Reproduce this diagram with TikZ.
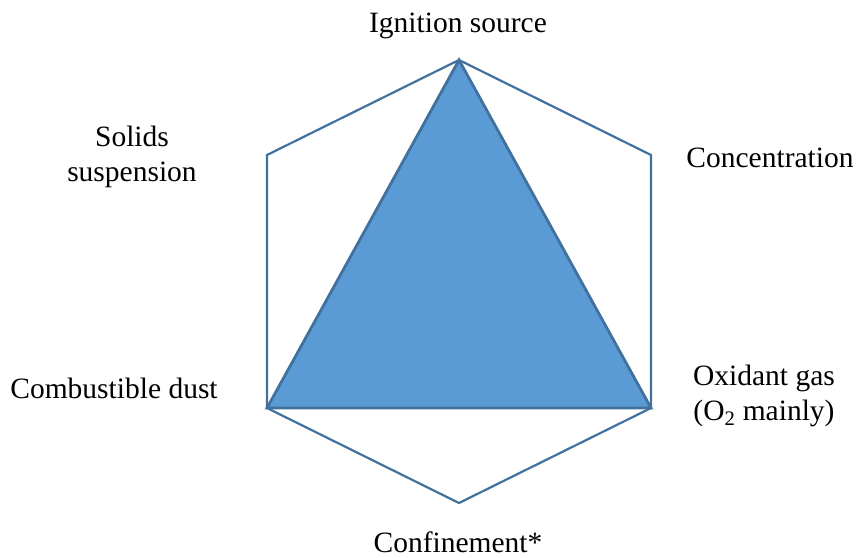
\documentclass[tikz,border=0pt]{standalone}
\usepackage{fontspec}
\setmainfont{Liberation Serif}
\usetikzlibrary{calc}
\definecolor{fillblue}{HTML}{5B9BD5}
\definecolor{edgeblue}{HTML}{41719C}

\begin{document}
\begin{tikzpicture}[x=1pt,y=-1pt,
    tag/.style={anchor=base,inner sep=0pt,align=center,
      font=\fontsize{29.5}{35}\selectfont},
    hexline/.style={draw=edgeblue,line width=2.2pt,line join=miter},
    triface/.style={fill=fillblue,draw=edgeblue,line width=2.8pt,line join=miter}]
  \useasboundingbox (0,0) rectangle (856,557);
  % hexagon corners
  \coordinate (T) at (459,60);
  \coordinate (UR) at (651,155);
  \coordinate (LR) at (651,408);
  \coordinate (B) at (459,503);
  \coordinate (LL) at (267,408);
  \coordinate (UL) at (267,155);
  \draw[hexline] (T) -- (UR) -- (LR) -- (B) -- (LL) -- (UL) -- cycle;
  \draw[triface] (T) -- (LR) -- (LL) -- cycle;
  % labels (multi-line ones sit on their last baseline)
  \node[tag] (ign) at (458,32) {Ignition source};
  \node[tag] (sol) at (132,181) {Solids\\suspension};
  \node[tag] (con) at (770,167) {Concentration};
  \node[tag] (dust) at (114,398) {Combustible dust};
  \node[tag] (oxi) at (764,420) {Oxidant gas\\(O\textsubscript{2} mainly)};
  \node[tag] (conf) at (458,552) {Confinement*};
\end{tikzpicture}
\end{document}
